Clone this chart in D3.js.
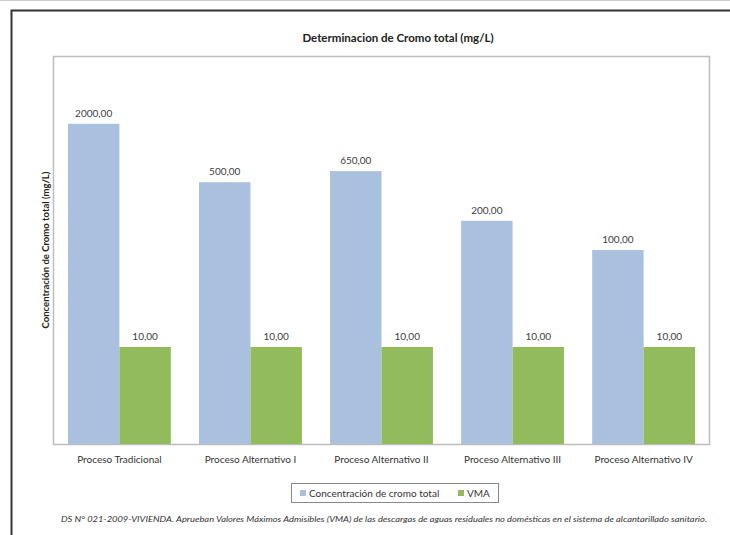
<!DOCTYPE html>
<html><head><meta charset="utf-8">
<script src="https://cdn.jsdelivr.net/npm/d3@7"></script>
<style>
body{margin:0;background:#fff;}
svg{display:block;font-family:Lato,"Open Sans",sans-serif;}
</style></head>
<body><svg id="c" width="730" height="535"></svg>
<script>
const categories = ["Proceso Tradicional","Proceso Alternativo I","Proceso Alternativo II","Proceso Alternativo III","Proceso Alternativo IV"];
const seriesNames = ["Concentración de cromo total","VMA"];
const cromoTotal = [2000, 500, 650, 200, 100];
const vma = [10, 10, 10, 10, 10];
const colors = ["#a9c1de","#92bb5b"];

const svg = d3.select("#c");
const plot = {l:53, r:710, t:56, b:444};

// spreadsheet grid remnants + outer frame
svg.append("line").attr("x1",0).attr("x2",730).attr("y1",0.5).attr("y2",0.5).attr("stroke","#ccc");
svg.append("path").attr("d","M11.5,535 V10.5 H730").attr("fill","none").attr("stroke","#333").attr("stroke-width",2);

svg.append("text").attr("x",398).attr("y",42).attr("text-anchor","middle")
  .attr("font-size",11.5).attr("font-weight","bold").attr("fill","#222").text("Determinacion de Cromo total (mg/L)");

svg.append("rect").attr("x",plot.l+0.5).attr("y",plot.t+0.5).attr("width",plot.r-plot.l-1).attr("height",plot.b-plot.t)
  .attr("fill","none").attr("stroke","#bdbdbd").attr("stroke-width",1.5);

const x0 = d3.scaleBand().domain(categories).range([plot.l,plot.r]).paddingInner(0.215).paddingOuter(0.114);
const x1 = d3.scaleBand().domain(seriesNames).range([0,x0.bandwidth()]);
const y = d3.scaleLog().domain([1,10000]).range([plot.b,plot.t]);

const data = categories.map((c,i)=>({cat:c, vals:[cromoTotal[i], vma[i]]}));
const fmt = v => d3.format(".2f")(v).replace(".",",");

const g = svg.append("g").selectAll("g").data(data).join("g")
  .attr("transform",d=>`translate(${x0(d.cat)},0)`);
g.selectAll("rect").data(d=>d.vals.map((v,j)=>({v,j}))).join("rect")
  .attr("x",d=>x1(seriesNames[d.j])).attr("width",x1.bandwidth())
  .attr("y",d=>y(d.v)).attr("height",d=>plot.b-y(d.v)).attr("fill",d=>colors[d.j]);
g.selectAll("text").data(d=>d.vals.map((v,j)=>({v,j}))).join("text")
  .attr("x",d=>x1(seriesNames[d.j])+x1.bandwidth()/2).attr("y",d=>y(d.v)-7)
  .attr("text-anchor","middle").attr("font-size",10).attr("fill","#404040").text(d=>fmt(d.v));

// x axis labels
const xa = svg.append("g").attr("transform",`translate(0,${plot.b})`)
  .call(d3.axisBottom(x0).tickSize(0).tickPadding(12));
xa.select(".domain").remove();
xa.selectAll("text").attr("font-size",10).attr("fill","#333").attr("font-family","Lato,sans-serif");

// y title
svg.append("text").attr("transform","translate(49,250) rotate(-90)").attr("text-anchor","middle")
  .attr("font-size",9.5).attr("font-weight","bold").attr("fill","#222").text("Concentración de Cromo total (mg/L)");

// legend
const lg = svg.append("g");
lg.append("rect").attr("x",291.5).attr("y",483.5).attr("width",207).attr("height",19).attr("fill","#fff").attr("stroke","#888");
const items = [{x:300},{x:458}];
seriesNames.forEach((s,i)=>{
  lg.append("rect").attr("x",items[i].x).attr("y",490).attr("width",6).attr("height",6).attr("fill",colors[i]);
  lg.append("text").attr("x",items[i].x+9).attr("y",497).attr("font-size",10).attr("fill","#333").text(s);
});

svg.append("text").attr("x",384).attr("y",522).attr("text-anchor","middle").attr("font-size",8).attr("font-style","italic")
  .attr("fill","#333").attr("textLength",646).attr("lengthAdjust","spacingAndGlyphs")
  .text("DS N° 021-2009-VIVIENDA. Aprueban Valores Máximos Admisibles (VMA) de las descargas de aguas residuales no domésticas en el sistema de alcantarillado sanitario.");
</script></body></html>
